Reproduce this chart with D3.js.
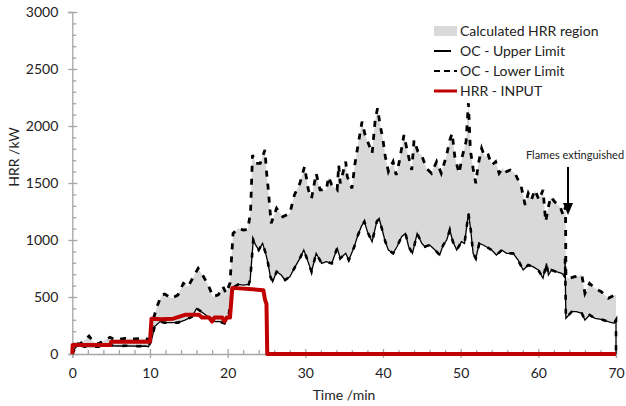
<!DOCTYPE html>
<html>
<head>
<meta charset="utf-8">
<script src="https://cdn.jsdelivr.net/npm/d3@7"></script>
<style>
  body { margin: 0; background: #fff; }
  text { font-family: Lato, "Open Sans", sans-serif; fill: #222; }
</style>
</head>
<body>
<div id="chart"></div>
<script>
// values (time in min, HRR in kW)
var upperTime = [0, 0.35, 1.0, 1.6, 2.15, 2.7, 3.35, 4.2, 4.85, 5.5, 6.8, 8.0, 9.4, 10.0, 10.4, 10.9, 11.5, 11.9, 12.8, 13.6,
    14.3, 14.9, 15.6, 16.2, 16.9, 17.5, 18.1, 18.8, 19.4, 19.8, 20.3, 20.7, 21.4, 22.0, 22.6, 22.95, 23.2, 23.6, 24.2, 24.8,
    25.0, 25.2, 25.4, 25.6, 26.3, 27.1, 28.0, 28.6, 29.3, 29.9, 30.4, 30.8, 31.4, 31.9, 32.7, 33.0, 33.4, 34.1, 34.3, 34.5,
    35.2, 35.4, 36.0, 36.4, 36.9, 37.3, 37.7, 38.2, 38.6, 39.0, 39.3, 39.6, 40.0, 40.3, 40.7, 41.3, 41.7, 42.1, 42.7, 43.1,
    43.7, 44.0, 44.5, 45.0, 45.6, 46.25, 46.9, 47.5, 48.2, 48.6, 48.9, 49.25, 49.8, 50.2, 50.7, 51.0, 51.25, 51.6, 51.95, 52.25,
    52.7, 53.1, 53.55, 54.0, 54.5, 54.95, 55.4, 55.9, 56.4, 57.0, 57.4, 57.8, 58.3, 58.7, 59.1, 59.55, 60.1, 60.6, 60.95, 61.3,
    61.6, 62.1, 62.8, 63.2, 63.5, 63.55, 64.0, 64.7, 65.6, 66.0, 66.6, 67.3, 68.1, 69.0, 69.85, 70.0];
var upperHrr = [0, 94, 88, 123, 158, 108, 88, 123, 146, 123, 137, 132, 137, 125, 298, 415, 518, 526, 488, 518,
    620, 591, 678, 751, 678, 605, 503, 518, 591, 532, 620, 1058, 1102, 1088, 1093, 1250, 1745, 1673, 1673, 1790,
    1600, 1468, 1307, 1146, 1278, 1204, 1234, 1395, 1497, 1643, 1439, 1365, 1585, 1439, 1439, 1555, 1482, 1439, 1658, 1497,
    1687, 1555, 1453, 1673, 1877, 2038, 1921, 1833, 1760, 2053, 2155, 2023, 1877, 1731, 1600, 1687, 1570, 1687, 1921, 1790,
    1614, 1877, 1775, 1740, 1629, 1585, 1687, 1585, 1746, 1877, 1936, 1731, 1585, 1731, 1863, 2200, 1790, 1629, 1497, 1658,
    1804, 1731, 1746, 1658, 1687, 1585, 1629, 1600, 1614, 1585, 1526, 1468, 1307, 1409, 1351, 1439, 1351, 1439, 1161, 1292,
    1380, 1336, 1292, 1219, 1292, 678, 664, 678, 693, 532, 620, 576, 547, 488, 518, 520];

var lowerTime = [0, 0.35, 0.8, 1.6, 2.5, 3.4, 4.2, 5.5, 7.0, 8.5, 9.4, 9.8, 10.2, 10.6, 11.3, 11.9, 13.6, 14.5, 15.4, 16.0,
    16.6, 17.5, 18.4, 19.0, 19.6, 20.1, 20.5, 20.9, 21.4, 22.0, 22.7, 22.9, 23.1, 23.3, 23.6, 24.0, 24.5, 24.9, 25.2, 25.5,
    25.8, 26.3, 26.9, 27.4, 28.0, 28.7, 29.3, 29.8, 30.2, 30.8, 31.4, 32.1, 32.7, 33.4, 34.1, 34.5, 35.2, 35.6, 36.3, 36.7,
    37.2, 37.6, 38.0, 38.6, 39.2, 39.5, 39.9, 40.3, 40.7, 41.3, 41.8, 42.4, 42.9, 43.3, 43.8, 44.4, 45.0, 45.4, 46.0, 46.7,
    47.3, 47.75, 48.2, 48.6, 49.0, 49.5, 50.1, 50.5, 51.0, 51.3, 51.6, 51.95, 52.4, 52.9, 53.3, 54.0, 54.6, 55.3, 55.9, 56.75,
    57.4, 58.05, 58.7, 59.3, 60.0, 60.6, 61.05, 61.3, 61.7, 62.3, 63.0, 63.4, 63.45, 63.5, 63.55, 64.3, 64.9, 65.6, 66.0, 66.6,
    67.3, 68.1, 69.0, 69.75, 70.0, 70.0];
var lowerHrr = [0, 50, 79, 64, 66, 64, 88, 70, 72, 68, 70, 64, 123, 240, 284, 275, 275, 298, 327, 400,
    371, 327, 284, 284, 269, 327, 503, 590, 610, 605, 610, 649, 824, 1000, 957, 912, 970, 883, 795, 678,
    634, 722, 693, 649, 678, 766, 839, 912, 839, 722, 883, 795, 810, 795, 927, 839, 883, 824, 941, 1029,
    1117, 1161, 1073, 985, 1161, 1190, 1088, 985, 912, 883, 941, 1029, 1058, 941, 883, 1058, 970, 941, 956, 912,
    868, 956, 1000, 1088, 985, 912, 985, 970, 1234, 1088, 883, 839, 970, 956, 941, 912, 868, 912, 883, 883,
    824, 737, 781, 766, 737, 664, 795, 693, 737, 722, 708, 680, 840, 550, 313, 371, 371, 357, 298, 342,
    313, 304, 284, 269, 298, 0];

var inputTime = [0, 0.05, 4.9, 5.0, 10.0, 10.2, 11.5, 13.0, 14.6, 16.3, 16.7, 17.6, 18.0, 18.3, 19.3, 19.6, 19.9, 20.3, 20.6, 24.6, 24.8, 25.0, 25.1, 70];
var inputHrr = [0, 80, 80, 108, 108, 310, 305, 310, 345, 345, 320, 320, 285, 320, 320, 285, 320, 320, 580, 560, 480, 440, 0, 0];

var yTicks = [0, 500, 1000, 1500, 2000, 2500, 3000];
var xTicks = [0, 10, 20, 30, 40, 50, 60, 70];
var legendLabels = ["Calculated HRR region", "OC - Upper Limit", "OC - Lower Limit", "HRR - INPUT"];

var width = 626, height = 406;

var svg = d3.select("#chart").append("svg")
    .attr("width", width)
    .attr("height", height);

var x = d3.scaleLinear().domain([0, 70]).range([72.3, 616]);
var y = d3.scaleLinear().domain([0, 3000]).range([354, 12]);

var axisColor = "#a6a6a6";

// y axis: major ticks cross the line, minor ticks point inward
var yMinor = d3.range(0, 3001, 100).filter(function(d) { return d % 500 !== 0; });
var gy = svg.append("g")
    .attr("transform", "translate(" + x(0) + ",0)")
    .call(d3.axisLeft(y).tickValues(yTicks).tickSize(4).tickPadding(10).tickFormat(d3.format("d")));
gy.selectAll(".tick line").attr("x1", 5);
svg.append("g")
    .attr("transform", "translate(" + x(0) + ",0)")
    .call(d3.axisRight(y).tickValues(yMinor).tickSize(4).tickFormat(""))
    .select(".domain").remove();

// x axis
var xMinor = d3.range(0, 71, 2).filter(function(d) { return d % 10 !== 0; });
var gx = svg.append("g")
    .attr("transform", "translate(0," + y(0) + ")")
    .call(d3.axisBottom(x).tickValues(xTicks).tickSize(4).tickPadding(10).tickFormat(d3.format("d")));
gx.selectAll(".tick line").attr("y1", -5);
svg.append("g")
    .attr("transform", "translate(0," + y(0) + ")")
    .call(d3.axisTop(x).tickValues(xMinor).tickSize(4).tickFormat(""))
    .select(".domain").remove();

svg.selectAll(".domain").attr("stroke", axisColor).attr("stroke-width", 1.3);
svg.selectAll(".tick line").attr("stroke", axisColor).attr("stroke-width", 1.3);
svg.selectAll(".tick text")
    .style("font-size", "14px")
    .style("font-family", "Lato, sans-serif")
    .attr("fill", "#222");

// axis titles
svg.append("text")
    .attr("x", 344)
    .attr("y", 400)
    .attr("text-anchor", "middle")
    .style("font-size", "14px")
    .text("Time /min");
svg.append("text")
    .attr("transform", "translate(19,157) rotate(-90)")
    .attr("text-anchor", "middle")
    .style("font-size", "14px")
    .text("HRR /kW");

var upperPts = upperTime.map(function(t, i) { return [t, upperHrr[i]]; });
var lowerPts = lowerTime.map(function(t, i) { return [t, lowerHrr[i]]; });
var inputPts = inputTime.map(function(t, i) { return [t, inputHrr[i]]; });

var line = d3.line()
    .x(function(d) { return x(d[0]); })
    .y(function(d) { return y(d[1]); });

// grey band between the two limits
svg.append("path")
    .attr("d", line(upperPts.concat(lowerPts.slice().reverse())) + "Z")
    .attr("fill", "#d9d9d9")
    .attr("stroke", "none");

// OC upper limit (solid, lower curve)
svg.append("path")
    .attr("d", line(lowerPts))
    .attr("fill", "none")
    .attr("stroke", "#000")
    .attr("stroke-width", 1.3);
svg.append("path")
    .attr("d", line(lowerPts))
    .attr("fill", "none")
    .attr("stroke", "#000")
    .attr("stroke-width", 2.6)
    .attr("stroke-dasharray", "5,9");

// OC lower limit (dashed, upper curve)
svg.append("path")
    .attr("d", line(upperPts))
    .attr("fill", "none")
    .attr("stroke", "#000")
    .attr("stroke-width", 2.8)
    .attr("stroke-dasharray", "6,7");

// HRR input
svg.append("path")
    .attr("d", line(inputPts))
    .attr("fill", "none")
    .attr("stroke", "#c00000")
    .attr("stroke-width", 4)
    .attr("stroke-linejoin", "round");

// annotation
svg.append("text")
    .attr("x", 575)
    .attr("y", 159)
    .attr("text-anchor", "middle")
    .style("font-size", "11px")
    .text("Flames extinguished");
svg.append("line")
    .attr("x1", 568).attr("y1", 167)
    .attr("x2", 568).attr("y2", 207)
    .attr("stroke", "#000")
    .attr("stroke-width", 2);
svg.append("path")
    .attr("d", "M563,203 L573,203 L568,215 Z")
    .attr("fill", "#000");

// legend
var legend = svg.append("g").attr("transform", "translate(434,31)");
legendLabels.forEach(function(label, i) {
    var g = legend.append("g").attr("transform", "translate(0," + (i * 20) + ")");
    if (i === 0) {
        g.append("rect").attr("x", 0).attr("y", -5).attr("width", 23).attr("height", 10).attr("fill", "#d9d9d9");
    } else if (i === 1) {
        g.append("line").attr("x1", 0).attr("x2", 17).attr("stroke", "#000").attr("stroke-width", 2);
    } else if (i === 2) {
        g.append("line").attr("x1", 0).attr("x2", 23).attr("stroke", "#000").attr("stroke-width", 2)
            .attr("stroke-dasharray", "6,4");
    } else {
        g.append("line").attr("x1", 0).attr("x2", 23).attr("stroke", "#c00000").attr("stroke-width", 3);
    }
    g.append("text")
        .attr("x", 26)
        .attr("y", 5)
        .style("font-size", "14px")
        .text(label);
});
</script>
</body>
</html>
